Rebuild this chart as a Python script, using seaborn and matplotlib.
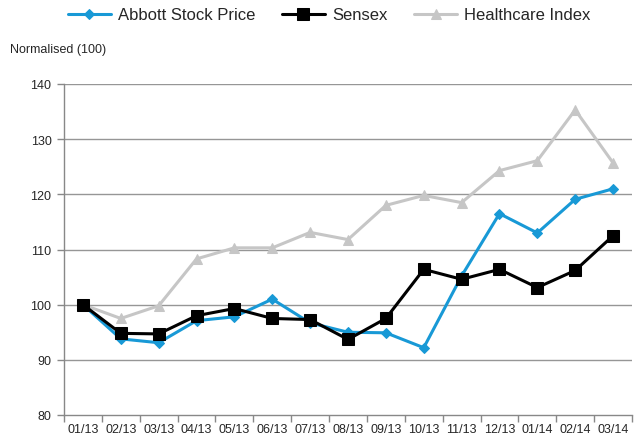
import matplotlib
matplotlib.use("Agg")
import matplotlib.pyplot as plt
import seaborn as sns
import pandas as pd
import numpy as np
from matplotlib.ticker import FixedLocator

months = ["01/13", "02/13", "03/13", "04/13", "05/13", "06/13", "07/13", "08/13",
          "09/13", "10/13", "11/13", "12/13", "01/14", "02/14", "03/14"]
abbott = [100, 93.8, 93.1, 97.1, 97.8, 101.0, 96.7, 95.0, 94.9, 92.2, 105.2, 116.5, 113.0, 119.1, 121.0]
sensex = [100, 94.8, 94.7, 98.0, 99.3, 97.5, 97.3, 93.7, 97.5, 106.4, 104.6, 106.4, 103.1, 106.2, 112.5]
health = [100, 97.5, 99.8, 108.3, 110.3, 110.3, 113.1, 111.8, 118.0, 119.8, 118.5, 124.3, 126.1, 135.3, 125.7]
yticks = [80, 90, 100, 110, 120, 130, 140]

sns.set_theme(style="white")
plt.rcParams['font.family'] = ['Liberation Sans', 'DejaVu Sans']

fig = plt.figure(figsize=(6.41, 4.39), dpi=100)
ax = fig.add_axes([64/641, 1-416/439, 568/641, 331/439])

x = np.arange(len(months))
df = pd.DataFrame({"x": x, "Abbott Stock Price": abbott, "Sensex": sensex, "Healthcare Index": health})

sns.lineplot(data=df, x="x", y="Healthcare Index", ax=ax, color="#c6c6c6", lw=2.2,
             marker="^", markersize=7, markeredgecolor="#c6c6c6", label="Healthcare Index", zorder=2)
sns.lineplot(data=df, x="x", y="Abbott Stock Price", ax=ax, color="#1899d6", lw=2.2,
             marker="D", markersize=5.5, markeredgecolor="#1899d6", label="Abbott Stock Price", zorder=3)
sns.lineplot(data=df, x="x", y="Sensex", ax=ax, color="black", lw=2.2,
             marker="s", markersize=9, markeredgecolor="black", label="Sensex", zorder=4)

ax.set_xlim(-0.5, len(months) - 0.5)
ax.set_ylim(80, 140)
ax.set_yticks(yticks)
ax.set_yticklabels([str(v) for v in yticks], fontsize=9)
ax.set_xticks(x)
ax.set_xticklabels(months, fontsize=9)
ax.tick_params(axis="x", which="major", length=0, pad=6)
ax.xaxis.set_minor_locator(FixedLocator(np.arange(-0.5, len(months), 1.0)))
ax.tick_params(axis="x", which="minor", length=5, color="#888888", bottom=True, width=1)
ax.tick_params(axis="y", which="major", length=5, color="#888888", left=True, width=1, pad=4)
ax.set_xlabel("")
ax.set_ylabel("")
for yv in yticks[1:]:
    ax.axhline(yv, color="#969696", lw=1, zorder=1)
for s in ["top", "right"]:
    ax.spines[s].set_visible(False)
for s in ["left", "bottom"]:
    ax.spines[s].set_color("#888888")
    ax.spines[s].set_linewidth(1)

handles, labels = ax.get_legend_handles_labels()
order = [labels.index(l) for l in ["Abbott Stock Price", "Sensex", "Healthcare Index"]]
ax.legend([handles[i] for i in order], [labels[i] for i in order], loc="center",
          bbox_to_anchor=(329/641, 1-16/439), bbox_transform=fig.transFigure, ncol=3,
          frameon=False, fontsize=12, handlelength=2.6, columnspacing=1.6, handletextpad=0.4)

fig.text(10/641, 1-50/439, "Normalised (100)", fontsize=9, va="center", ha="left")

fig.savefig("out.png", dpi=100)
